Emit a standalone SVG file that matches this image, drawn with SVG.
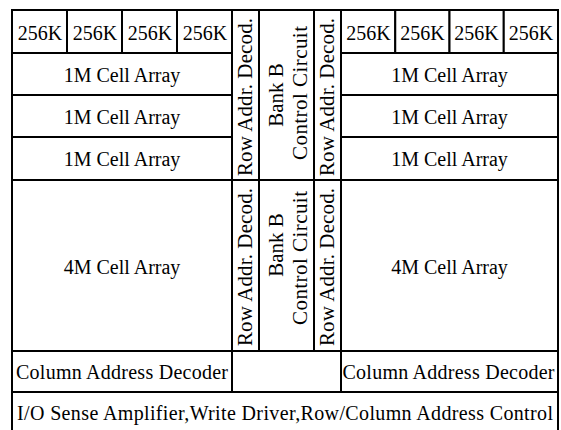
<svg xmlns="http://www.w3.org/2000/svg" width="561" height="430" viewBox="0 0 561 430">
<style>
.b{fill:#fff;stroke:#000;stroke-width:2}
.t{font-family:"Liberation Serif","Times New Roman",serif;font-size:20px;fill:#000;text-anchor:middle}
.v{font-family:"Liberation Serif","Times New Roman",serif;font-size:21px;fill:#000;text-anchor:middle}
</style>
<rect width="561" height="430" fill="#fff"/>
<g id="left-256k-1"><rect class="b" x="12" y="10" width="55" height="43"/><text class="t" x="40" y="40">256K</text></g>
<g id="left-256k-2"><rect class="b" x="67" y="10" width="55" height="43"/><text class="t" x="95" y="40">256K</text></g>
<g id="left-256k-3"><rect class="b" x="122" y="10" width="55" height="43"/><text class="t" x="150" y="40">256K</text></g>
<g id="left-256k-4"><rect class="b" x="177" y="10" width="55" height="43"/><text class="t" x="205" y="40">256K</text></g>
<g id="left-1m-1"><rect class="b" x="12" y="53" width="220" height="42"/><text class="t" x="122" y="82">1M Cell Array</text></g>
<g id="left-1m-2"><rect class="b" x="12" y="95" width="220" height="42"/><text class="t" x="122" y="124">1M Cell Array</text></g>
<g id="left-1m-3"><rect class="b" x="12" y="137" width="220" height="43"/><text class="t" x="122" y="166">1M Cell Array</text></g>
<g id="left-4m"><rect class="b" x="12" y="180" width="220" height="171"/><text class="t" x="122" y="274">4M Cell Array</text></g>
<g id="left-coldec"><rect class="b" x="12" y="351" width="220" height="41"/><text class="t" x="122" y="379" textLength="212" lengthAdjust="spacing">Column Address Decoder</text></g>

<g id="right-256k-1"><rect class="b" x="341" y="10" width="54.25" height="43"/><text class="t" x="368.5" y="40">256K</text></g>
<g id="right-256k-2"><rect class="b" x="395.25" y="10" width="54.25" height="43"/><text class="t" x="422.5" y="40">256K</text></g>
<g id="right-256k-3"><rect class="b" x="449.5" y="10" width="54.25" height="43"/><text class="t" x="476.5" y="40">256K</text></g>
<g id="right-256k-4"><rect class="b" x="503.75" y="10" width="54.25" height="43"/><text class="t" x="531" y="40">256K</text></g>
<g id="right-1m-1"><rect class="b" x="341" y="53" width="217" height="42"/><text class="t" x="449.5" y="82">1M Cell Array</text></g>
<g id="right-1m-2"><rect class="b" x="341" y="95" width="217" height="42"/><text class="t" x="449.5" y="124">1M Cell Array</text></g>
<g id="right-1m-3"><rect class="b" x="341" y="137" width="217" height="43"/><text class="t" x="449.5" y="166">1M Cell Array</text></g>
<g id="right-4m"><rect class="b" x="341" y="180" width="217" height="171"/><text class="t" x="449.5" y="274">4M Cell Array</text></g>
<g id="right-coldec"><rect class="b" x="341" y="351" width="217" height="41"/><text class="t" x="448.5" y="379" textLength="212" lengthAdjust="spacing">Column Address Decoder</text></g>

<g id="rowdec-top-left"><rect class="b" x="232" y="10" width="27" height="170"/><text class="v" transform="translate(252,97) rotate(-90)" textLength="158" lengthAdjust="spacing">Row Addr. Decod.</text></g>
<g id="bankb-top"><rect class="b" x="259" y="10" width="55" height="170"/><text class="v" transform="translate(283,95) rotate(-90)">Bank B</text><text class="v" transform="translate(307,93) rotate(-90)" textLength="134" lengthAdjust="spacing">Control Circuit</text></g>
<g id="rowdec-top-right"><rect class="b" x="314" y="10" width="27" height="170"/><text class="v" transform="translate(334,97) rotate(-90)" textLength="158" lengthAdjust="spacing">Row Addr. Decod.</text></g>

<g id="rowdec-bot-left"><rect class="b" x="232" y="180" width="27" height="171"/><text class="v" transform="translate(252,267) rotate(-90)" textLength="158" lengthAdjust="spacing">Row Addr. Decod.</text></g>
<g id="bankb-bot"><rect class="b" x="259" y="180" width="55" height="171"/><text class="v" transform="translate(283,245) rotate(-90)">Bank B</text><text class="v" transform="translate(307,258) rotate(-90)" textLength="134" lengthAdjust="spacing">Control Circuit</text></g>
<g id="rowdec-bot-right"><rect class="b" x="314" y="180" width="27" height="171"/><text class="v" transform="translate(334,267) rotate(-90)" textLength="158" lengthAdjust="spacing">Row Addr. Decod.</text></g>

<g id="mid-empty"><rect class="b" x="232" y="351" width="109" height="41"/></g>
<g id="io"><rect class="b" x="12" y="392" width="546" height="50"/><text class="t" x="285" y="420" textLength="536" lengthAdjust="spacing">I/O Sense Amplifier,Write Driver,Row/Column Address Control</text></g>
<g id="connectors"></g>
</svg>
